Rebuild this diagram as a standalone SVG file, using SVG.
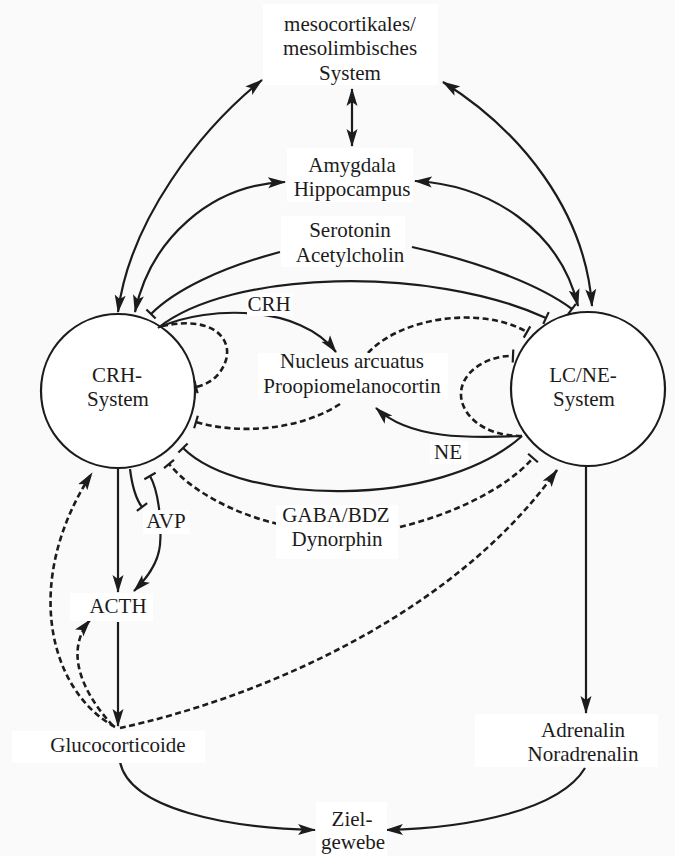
<svg xmlns="http://www.w3.org/2000/svg" width="675" height="856" viewBox="0 0 675 856">
<style>
.t{font-family:"Liberation Serif","Times New Roman",serif;font-size:21px;fill:#1c1c1c;text-anchor:middle}
.box{fill:#ffffff;stroke:none}
.c{fill:#ffffff;stroke:#1c1c1c;stroke-width:2.2}
.s{fill:none;stroke:#1c1c1c;stroke-width:2.2}
.d{fill:none;stroke:#1c1c1c;stroke-width:2.6;stroke-dasharray:6 3.5}
.a{marker-end:url(#arr)}
.bi{marker-start:url(#arr);marker-end:url(#arr)}
.te{marker-end:url(#tee)}
</style>
<defs>
<marker id="arr" viewBox="0 0 18 12" refX="17" refY="6" markerWidth="18" markerHeight="12" markerUnits="userSpaceOnUse" orient="auto-start-reverse"><path d="M0,0.5 L18,6 L0,11.5 L4,6 z" fill="#1c1c1c"/></marker>
<marker id="tee" viewBox="-2 -8 4 16" refX="0" refY="0" markerWidth="4" markerHeight="16" markerUnits="userSpaceOnUse" orient="auto"><path d="M0,-6.5 L0,6.5" stroke="#1c1c1c" stroke-width="2.2" fill="none"/></marker>
</defs>
<rect x="0" y="0" width="675" height="856" fill="#fafafa"/>

<g id="crh-system"><circle class="c" cx="118" cy="391" r="77"/><text class="t" x="117" y="382">CRH-</text><text class="t" x="118" y="406">System</text></g>
<g id="lcne-system"><circle class="c" cx="588" cy="389" r="77"/><text class="t" x="583" y="382">LC/NE-</text><text class="t" x="584" y="406">System</text></g>

<g id="connectors">
<path class="s bi" d="M118,312 C130,220 200,130 262,80"/>
<path class="s bi" d="M135,312 C150,240 210,185 285,182"/>
<path class="s bi" d="M443,82 C520,130 585,210 592,306"/>
<path class="s bi" d="M415,181 C490,185 560,230 578,306"/>
<path class="s bi" d="M352,89 L352,146"/>
<path class="s te" d="M280,252 C220,268 175,290 151,314"/>
<path class="s te" d="M412,247 C480,262 540,285 572,309"/>
<path class="s te" d="M158,328 C230,270 430,265 546,318"/>
<path class="s a" d="M160,327 C210,305 300,305 336,352"/>
<path class="s te" d="M522,436 C440,510 240,505 183,448"/>
<path class="s a" d="M522,436 C470,438 410,440 376,408"/>
<path class="s a" d="M118,468 L118,592"/>
<path class="s te" d="M130,469 C132,485 135,498 142,507"/>
<path class="s a" d="M150,476 C158,490 162,520 160,545 C158,565 145,580 134,591" marker-start="url(#tee)"/>
<path class="s a" d="M118,622 L118,726"/>
<path class="s a" d="M586,466 L586,713"/>
<path class="s a" d="M120,762 C130,810 230,828 315,830"/>
<path class="s a" d="M585,768 C560,810 470,828 386,830"/>
<path class="d te" d="M162,326 C215,315 232,340 226,360 C220,378 208,384 196,387"/>
<path class="d te" d="M340,404 C300,430 240,435 196,422"/>
<path class="d te" d="M368,353 C400,318 480,305 527,332"/>
<path class="d te" d="M522,436 C480,436 460,412 461,393 C462,370 490,355 513,356"/>
<path class="d te" d="M278,524 C240,515 195,495 169,464"/>
<path class="d te" d="M400,527 C450,515 505,490 533,458"/>
<path class="d a" d="M120,728 C250,700 450,620 557,470"/>
<path class="d a" d="M115,727 C48,690 22,580 92,473"/>
<path class="d a" d="M113,726 C80,690 65,650 90,620"/>
</g>

<g id="mesocortikales"><rect class="box" x="263" y="4" width="175" height="81"/><text class="t" x="350" y="31">mesocortikales/</text><text class="t" x="350" y="55">mesolimbisches</text><text class="t" x="350" y="80">System</text></g>
<g id="amygdala"><rect class="box" x="287" y="148" width="126" height="54"/><text class="t" x="352" y="172">Amygdala</text><text class="t" x="352" y="196">Hippocampus</text></g>
<g id="serotonin"><rect class="box" x="281" y="216" width="124" height="51"/><text class="t" x="350" y="237">Serotonin</text><text class="t" x="350" y="262">Acetylcholin</text></g>
<g id="crh-label"><rect class="box" x="247" y="293" width="46" height="23"/><text class="t" x="269" y="311">CRH</text></g>
<g id="nucleus"><rect class="box" x="258" y="353" width="190" height="47"/><text class="t" x="352" y="368">Nucleus arcuatus</text><text class="t" x="352" y="393">Proopiomelanocortin</text></g>
<g id="ne-label"><rect class="box" x="430" y="441" width="38" height="23"/><text class="t" x="448" y="459">NE</text></g>
<g id="avp"><rect class="box" x="143" y="510" width="47" height="24"/><text class="t" x="166" y="528">AVP</text></g>
<g id="gaba"><rect class="box" x="276" y="505" width="122" height="54"/><text class="t" x="336" y="522">GABA/BDZ</text><text class="t" x="337" y="546">Dynorphin</text></g>
<g id="acth"><rect class="box" x="70" y="593" width="83" height="28"/><text class="t" x="118" y="613">ACTH</text></g>
<g id="glucocorticoide"><rect class="box" x="12" y="731" width="193" height="32"/><text class="t" x="118" y="752">Glucocorticoide</text></g>
<g id="adrenalin"><rect class="box" x="475" y="714" width="183" height="53"/><text class="t" x="583" y="737">Adrenalin</text><text class="t" x="583" y="761">Noradrenalin</text></g>
<g id="zielgewebe"><rect class="box" x="316" y="802" width="71" height="54"/><text class="t" x="352" y="826">Ziel-</text><text class="t" x="353" y="849">gewebe</text></g>
</svg>
